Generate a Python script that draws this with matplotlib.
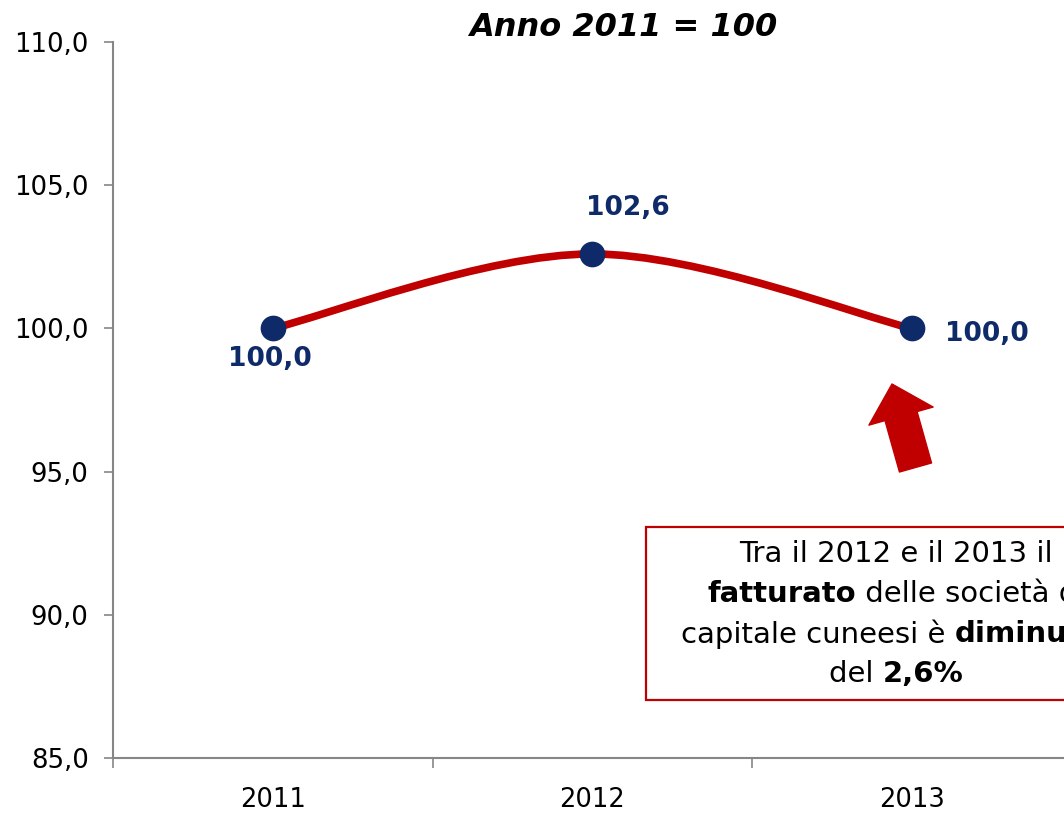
import matplotlib
matplotlib.use("Agg")
import matplotlib.pyplot as plt
from matplotlib.path import Path
from matplotlib.patches import PathPatch, Rectangle, FancyArrowPatch
from matplotlib.ticker import FixedLocator, FuncFormatter

# data
years = ["2011", "2012", "2013"]
values = [100.0, 102.6, 100.0]
yticks = [85, 90, 95, 100, 105, 110]

title = "Anno 2011 = 100"
note_lines = [
    [("Tra il 2012 e il 2013 il", False)],
    [("fatturato", True), (" delle società di", False)],
    [("capitale cuneesi è ", False), ("diminuito", True)],
    [("del ", False), ("2,6%", True)],
]

RED = "#C00000"
NAVY = "#0E2A68"
GREY = "#868686"

W, H = 1064, 814
fig = plt.figure(figsize=(W / 100, H / 100), dpi=100)
plt.rcParams["font.family"] = ["DejaVu Sans"]

# axes spans 0.5..3.5, right edge falls outside the picture
ax = fig.add_axes([113 / W, 56 / H, 958.5 / W, 716 / H])
ax.set_xlim(0.5, 3.5)
ax.set_ylim(85, 110)

xs = list(range(1, len(values) + 1))

# excel-like smoothed line as cubic bezier segments
pts = list(zip(xs, values))
verts = [pts[0]]
codes = [Path.MOVETO]
for i in range(len(pts) - 1):
    p0 = pts[max(i - 1, 0)]
    p1 = pts[i]
    p2 = pts[i + 1]
    p3 = pts[min(i + 2, len(pts) - 1)]
    c1 = (p1[0] + (p2[0] - p0[0]) / 6, p1[1] + (p2[1] - p0[1]) / 6)
    c2 = (p2[0] - (p3[0] - p1[0]) / 6, p2[1] - (p3[1] - p1[1]) / 6)
    verts += [c1, c2, p2]
    codes += [Path.CURVE4] * 3
ax.add_patch(PathPatch(Path(verts, codes), fill=False, edgecolor=RED,
                       lw=5.5, capstyle="round", zorder=2))
ax.plot(xs, values, ls="none", marker="o", ms=17.5, color=NAVY, zorder=3)

# data labels
offsets = [(-3, -31, "center"), (36, 46, "center"), (33, -6, "left")]
for x, v, (dx, dy, ha) in zip(xs, values, offsets):
    ax.annotate(f"{v:.1f}".replace(".", ","), (x, v), xytext=(dx, dy),
                textcoords="offset pixels", ha=ha, va="center",
                fontsize=19, fontweight="bold", color=NAVY)

# axes styling
for s in ["top", "right"]:
    ax.spines[s].set_visible(False)
for s in ["left", "bottom"]:
    ax.spines[s].set_color(GREY)
    ax.spines[s].set_linewidth(1.5)

ax.set_yticks(yticks)
ax.yaxis.set_major_formatter(FuncFormatter(lambda v, p: f"{v:.1f}".replace(".", ",")))
ax.tick_params(axis="y", direction="out", length=6.5, width=1.2, color=GREY,
               labelsize=18.7, pad=11)

ax.xaxis.set_major_locator(FixedLocator([0.5, 1.5, 2.5, 3.5]))
ax.xaxis.set_minor_locator(FixedLocator(xs))
ax.set_xticklabels([], minor=False)
ax.set_xticklabels(years, minor=True)
ax.tick_params(axis="x", which="major", direction="out", length=7, width=1.2,
               color=GREY)
ax.tick_params(axis="x", which="minor", length=0, labelsize=18.5, pad=21)

fig.text(623 / W, 1 - 28 / H, title, ha="center", va="center",
         fontsize=23, fontweight="bold", fontstyle="italic")

# arrow pointing to the 2013 point
fig.add_artist(FancyArrowPatch(
    (915.5 / W, 1 - 467.5 / H), (892 / W, 1 - 384 / H),
    transform=fig.transFigure, arrowstyle="simple,head_width=48,head_length=24,tail_width=24",
    color=RED, shrinkA=0, shrinkB=0, mutation_scale=1))

# note box
fig.add_artist(Rectangle((646 / W, 1 - 700 / H), 500 / W, 173 / H,
                         transform=fig.transFigure, facecolor="white",
                         edgecolor=RED, lw=1.6, zorder=5))

fig.canvas.draw()
renderer = fig.canvas.get_renderer()
cx = 896
line_y = [554, 594, 634, 674]
for segs, yy in zip(note_lines, line_y):
    texts = []
    for txt, bold in segs:
        t = fig.text(0, 1 - yy / H, txt, ha="left", va="center", fontsize=21,
                     fontweight="bold" if bold else "normal", zorder=6)
        texts.append(t)
    widths = [t.get_window_extent(renderer).width for t in texts]
    x0 = cx - sum(widths) / 2
    for t, w in zip(texts, widths):
        t.set_x(x0 / W)
        x0 += w

fig.savefig("out.png", dpi=100)
